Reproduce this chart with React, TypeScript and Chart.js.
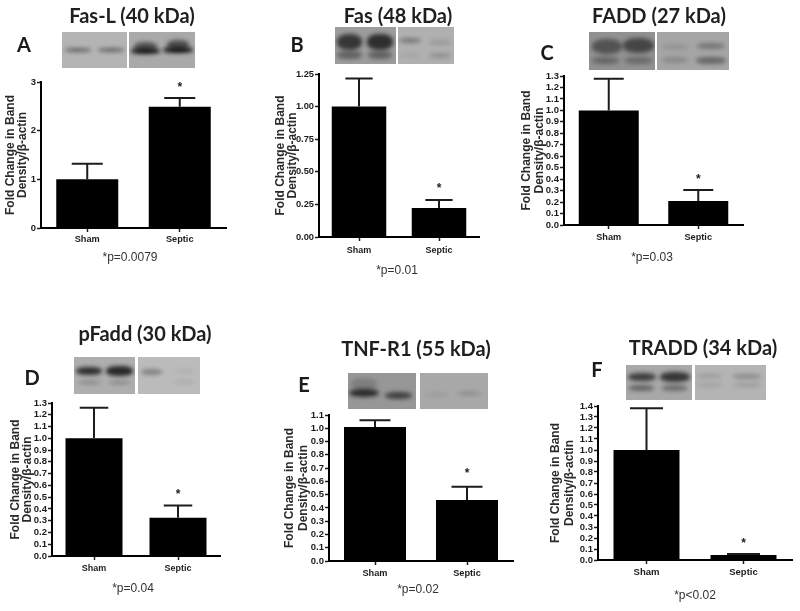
import React, { useEffect, useRef } from "react";
import { Chart, registerables } from "chart.js";

Chart.register(...registerables);

// ---------- data ----------
const categories = ["Sham", "Septic"];
const titles = ["Fas-L (40 kDa)", "Fas (48 kDa)", "FADD (27 kDa)", "pFadd (30 kDa)", "TNF-R1 (55 kDa)", "TRADD (34 kDa)"];
const letters = ["A", "B", "C", "D", "E", "F"];
const pNotes = ["*p=0.0079", "*p=0.01", "*p=0.03", "*p=0.04", "*p=0.02", "*p<0.02"];
const axisTitle = ["Fold Change in Band", "Density/β-actin"];

const meansA = [1.0, 2.49];
const meansB = [1.0, 0.222];
const meansC = [1.0, 0.21];
const meansD = [1.0, 0.325];
const meansE = [1.01, 0.46];
const meansF = [1.0, 0.045];

const errTopA = [1.32, 2.67];
const errTopB = [1.215, 0.284];
const errTopC = [1.277, 0.305];
const errTopD = [1.26, 0.43];
const errTopE = [1.06, 0.56];
const errTopF = [1.38, 0.055];

const starAtA = 2.95;
const starAtB = 0.394;
const starAtC = 0.424;
const starAtD = 0.545;
const starAtE = 0.68;
const starAtF = 0.176;

const ticksA = ["0", "1", "2", "3"];
const ticksB = ["0.00", "0.25", "0.50", "0.75", "1.00", "1.25"];
const ticksC = ["0.0", "0.1", "0.2", "0.3", "0.4", "0.5", "0.6", "0.7", "0.8", "0.9", "1.0", "1.1", "1.2", "1.3"];
const ticksD = ticksC;
const ticksE = ["0.0", "0.1", "0.2", "0.3", "0.4", "0.5", "0.6", "0.7", "0.8", "0.9", "1.0", "1.1"];
const ticksF = ["0.0", "0.1", "0.2", "0.3", "0.4", "0.5", "0.6", "0.7", "0.8", "0.9", "1.0", "1.1", "1.2", "1.3", "1.4"];

const series = [
  { means: meansA, errs: errTopA, star: starAtA, ticks: ticksA },
  { means: meansB, errs: errTopB, star: starAtB, ticks: ticksB },
  { means: meansC, errs: errTopC, star: starAtC, ticks: ticksC },
  { means: meansD, errs: errTopD, star: starAtD, ticks: ticksD },
  { means: meansE, errs: errTopE, star: starAtE, ticks: ticksE },
  { means: meansF, errs: errTopF, star: starAtF, ticks: ticksF },
];

// ---------- layout (pixels on the page) ----------
const frames = [
  { axisX: 41, axisEnd: 226, y0: 228, yTop: 82, barW: 62, titleX: 11, titleGap: 12, tickFont: 9.5, xFont: 9.2, xPad: 2 },
  { axisX: 319, axisEnd: 479, y0: 237, yTop: 74, barW: 54.5, titleX: 280.5, titleGap: 12, tickFont: 9.3, xFont: 9, xPad: 4 },
  { axisX: 564, axisEnd: 743, y0: 225, yTop: 76, barW: 60, titleX: 526, titleGap: 13, tickFont: 9.5, xFont: 9.2, xPad: 3 },
  { axisX: 52, axisEnd: 220, y0: 556, yTop: 403, barW: 57, titleX: 16, titleGap: 12, tickFont: 9.5, xFont: 9, xPad: 3 },
  { axisX: 329, axisEnd: 513, y0: 561, yTop: 415, barW: 62, titleX: 290, titleGap: 14, tickFont: 9.5, xFont: 9.2, xPad: 3 },
  { axisX: 598, axisEnd: 792, y0: 560, yTop: 406, barW: 66, titleX: 556, titleGap: 14, tickFont: 9.5, xFont: 9.5, xPad: 3 },
];

const titlePos = [[132, 15], [398, 15], [659, 15], [145, 333], [416, 348], [703, 347]];
const letterPos = [[24, 44], [297, 44], [547, 52], [32, 377], [304, 384], [597, 369]];
const notePos = [[130, 257], [397, 270], [652, 257], [133, 588], [418, 589], [695, 595]];

// western blot strips: [cx, cy, w, h, opacity] as fractions of the strip
type Band = number[];
type Strip = { x0: number; x1: number; y0: number; y1: number; bg: string; bands: Band[] };
const strips: Strip[] = [
  { x0: 62, x1: 127, y0: 32, y1: 68, bg: "#b4b4b4", bands: [[0.24, 0.5, 0.4, 0.1, 0.5], [0.75, 0.5, 0.4, 0.1, 0.5]] },
  { x0: 129, x1: 195, y0: 32, y1: 68, bg: "#a9a9a9", bands: [[0.25, 0.4, 0.34, 0.26, 0.55], [0.25, 0.52, 0.44, 0.16, 0.95], [0.74, 0.36, 0.34, 0.26, 0.6], [0.74, 0.5, 0.45, 0.16, 0.95]] },
  { x0: 335, x1: 396, y0: 27, y1: 64, bg: "#9c9c9c", bands: [[0.24, 0.4, 0.42, 0.42, 0.72], [0.74, 0.4, 0.42, 0.42, 0.78], [0.24, 0.76, 0.4, 0.2, 0.42], [0.74, 0.76, 0.4, 0.2, 0.42]] },
  { x0: 398, x1: 454, y0: 27, y1: 64, bg: "#b0b0b0", bands: [[0.21, 0.37, 0.4, 0.14, 0.35], [0.75, 0.43, 0.38, 0.14, 0.15], [0.21, 0.76, 0.38, 0.12, 0.07], [0.75, 0.76, 0.38, 0.14, 0.2]] },
  { x0: 589, x1: 655, y0: 32, y1: 70, bg: "#919191", bands: [[0.27, 0.38, 0.46, 0.38, 0.48], [0.75, 0.35, 0.48, 0.38, 0.58], [0.25, 0.75, 0.42, 0.18, 0.34], [0.75, 0.75, 0.42, 0.16, 0.3]] },
  { x0: 657, x1: 729, y0: 32, y1: 70, bg: "#a5a5a5", bands: [[0.25, 0.4, 0.36, 0.16, 0.1], [0.25, 0.74, 0.36, 0.14, 0.18], [0.75, 0.38, 0.4, 0.16, 0.32], [0.75, 0.75, 0.42, 0.16, 0.42]] },
  { x0: 74, x1: 135, y0: 357, y1: 394, bg: "#aeaeae", bands: [[0.25, 0.38, 0.42, 0.2, 0.8], [0.75, 0.38, 0.44, 0.26, 0.85], [0.25, 0.69, 0.38, 0.09, 0.3], [0.75, 0.69, 0.38, 0.09, 0.3]] },
  { x0: 138, x1: 200, y0: 357, y1: 394, bg: "#bbbbbb", bands: [[0.22, 0.4, 0.35, 0.15, 0.33], [0.75, 0.4, 0.38, 0.14, 0.05], [0.75, 0.68, 0.38, 0.12, 0.08]] },
  { x0: 348, x1: 416, y0: 373, y1: 409, bg: "#979797", bands: [[0.24, 0.32, 0.38, 0.34, 0.18], [0.24, 0.56, 0.44, 0.24, 0.8], [0.74, 0.63, 0.4, 0.2, 0.65]] },
  { x0: 420, x1: 488, y0: 373, y1: 409, bg: "#a8a8a8", bands: [[0.25, 0.6, 0.34, 0.1, 0.1], [0.72, 0.57, 0.36, 0.11, 0.24]] },
  { x0: 626, x1: 692, y0: 365, y1: 400, bg: "#a8a8a8", bands: [[0.24, 0.35, 0.42, 0.24, 0.7], [0.24, 0.66, 0.38, 0.15, 0.45], [0.74, 0.35, 0.46, 0.28, 0.75], [0.74, 0.66, 0.38, 0.15, 0.4]] },
  { x0: 695, x1: 766, y0: 365, y1: 400, bg: "#b4b4b4", bands: [[0.2, 0.32, 0.37, 0.12, 0.15], [0.2, 0.56, 0.37, 0.11, 0.11], [0.73, 0.33, 0.4, 0.12, 0.24], [0.73, 0.56, 0.4, 0.11, 0.15]] },
];

const INK = "#1c1c1c";
const SANS = '"Liberation Sans", Arial, sans-serif';

const errorBars = {
  id: "errorBars",
  afterDatasetsDraw(chart: any, _a: any, opts: any) {
    const { ctx } = chart;
    const y = chart.scales.y;
    const meta = chart.getDatasetMeta(0);
    ctx.save();
    ctx.strokeStyle = INK;
    ctx.lineWidth = 2;
    meta.data.forEach((bar: any, i: number) => {
      const top = y.getPixelForValue(opts.errs[i]);
      const half = bar.width / 4;
      ctx.beginPath();
      ctx.moveTo(bar.x, bar.y);
      ctx.lineTo(bar.x, top);
      ctx.moveTo(bar.x - half, top);
      ctx.lineTo(bar.x + half, top);
      ctx.stroke();
    });
    ctx.fillStyle = "#222";
    ctx.font = `bold 12px ${SANS}`;
    ctx.textAlign = "center";
    ctx.textBaseline = "middle";
    ctx.fillText("*", meta.data[1].x, y.getPixelForValue(opts.star) + 3);
    ctx.restore();
  },
};

function Panel({ index }: { index: number }) {
  const ref = useRef<HTMLCanvasElement | null>(null);
  const f = frames[index];
  const s = series[index];
  const left = Math.round(f.titleX - f.titleGap / 2);
  const top = f.yTop - 10;
  const right = f.axisEnd + 4;
  const bottom = f.y0 + 24;

  useEffect(() => {
    const chart = new Chart(ref.current as HTMLCanvasElement, {
      type: "bar",
      data: {
        labels: categories,
        datasets: [
          {
            data: s.means,
            backgroundColor: "#000",
            borderWidth: 0,
            categoryPercentage: 1,
            barPercentage: f.barW / ((f.axisEnd - f.axisX) / 2),
          },
        ],
      },
      plugins: [errorBars],
      options: {
        animation: false,
        responsive: false,
        layout: {
          autoPadding: false,
          padding: { top: f.yTop - top, right: right - f.axisEnd, left: 0, bottom: 0 },
        },
        plugins: {
          legend: { display: false },
          tooltip: { enabled: false },
          errorBars: { errs: s.errs, star: s.star },
        },
        scales: {
          x: {
            afterFit: (sc: any) => { sc.height = bottom - f.y0; },
            grid: { display: true, drawOnChartArea: false, offset: false, tickLength: 4, tickWidth: 1.5, tickColor: INK },
            border: { color: "#000", width: 2 },
            ticks: { color: INK, padding: f.xPad, font: { family: SANS, size: f.xFont, weight: "bold" } },
          },
          y: {
            min: 0,
            max: Number(s.ticks[s.ticks.length - 1]),
            afterFit: (sc: any) => { sc.width = f.axisX - left; },
            afterBuildTicks: (sc: any) => { sc.ticks = s.ticks.map((t) => ({ value: Number(t) })); },
            grid: { display: true, drawOnChartArea: false, tickLength: 4, tickWidth: 1.5, tickColor: INK },
            border: { color: "#000", width: 2 },
            ticks: {
              color: INK,
              padding: 1,
              autoSkip: false,
              font: { family: SANS, size: f.tickFont, weight: "bold" },
              callback: (_v: any, i: number) => s.ticks[i],
            },
            title: {
              display: true,
              text: axisTitle,
              color: "#2a2a2a",
              padding: 0,
              font: { family: SANS, size: 12, weight: "bold", lineHeight: f.titleGap / 12 },
            },
          },
        },
      } as any,
    });
    return () => chart.destroy();
  }, []);

  return (
    <canvas
      ref={ref}
      width={right - left}
      height={bottom - top}
      style={{ position: "absolute", left, top, width: right - left, height: bottom - top }}
    />
  );
}

const centred = (x: number, y: number): React.CSSProperties => ({
  position: "absolute",
  left: x,
  top: y,
  transform: "translate(-50%, -50%)",
  whiteSpace: "nowrap",
  lineHeight: 1,
  willChange: "transform",
});

export default function App() {
  return (
    <div style={{ position: "absolute", left: 0, top: 0, width: 800, height: 611, background: "#fff", overflow: "hidden", filter: "blur(0.35px)" }}>
      {strips.map((st, i) => (
        <div key={i} style={{ position: "absolute", left: st.x0, top: st.y0, width: st.x1 - st.x0, height: st.y1 - st.y0, background: st.bg, overflow: "hidden" }}>
          {st.bands.map((b, j) => (
            <div
              key={j}
              style={{
                position: "absolute",
                left: `${(b[0] - b[2] / 2) * 100}%`,
                top: `${(b[1] - b[3] / 2) * 100}%`,
                width: `${b[2] * 100}%`,
                height: `${b[3] * 100}%`,
                background: "#101010",
                opacity: b[4],
                borderRadius: "45%",
                filter: "blur(2px)",
              }}
            />
          ))}
        </div>
      ))}
      {titles.map((t, i) => (
        <div key={t} style={{ ...centred(titlePos[i][0], titlePos[i][1]), fontFamily: "Lato, sans-serif", fontWeight: 700, fontSize: 20, color: "#1f1f1f" }}>{t}</div>
      ))}
      {letters.map((t, i) => (
        <div key={t} style={{ ...centred(letterPos[i][0], letterPos[i][1]), fontFamily: "Lato, sans-serif", fontWeight: 700, fontSize: 20, color: "#1a1a1a" }}>{t}</div>
      ))}
      {pNotes.map((t, i) => (
        <div key={i} style={{ ...centred(notePos[i][0], notePos[i][1]), fontFamily: SANS, fontSize: 12, color: "#333" }}>{t}</div>
      ))}
      {frames.map((_, i) => <Panel key={i} index={i} />)}
    </div>
  );
}
